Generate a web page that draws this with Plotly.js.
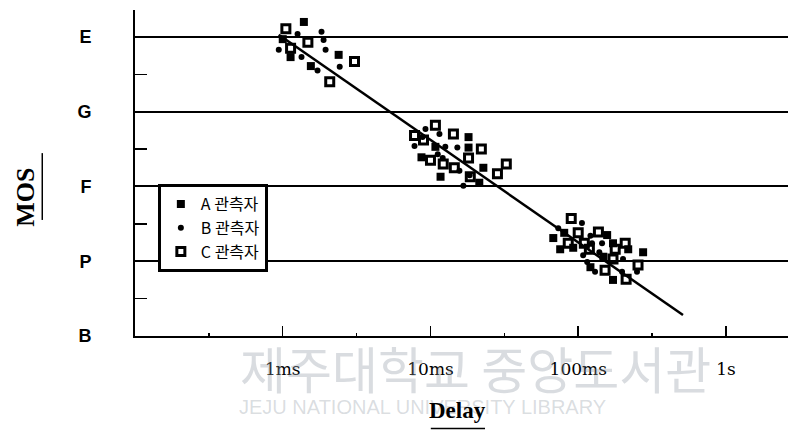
<!DOCTYPE html>
<html>
<head>
<meta charset="utf-8">
<script src="https://cdn.plot.ly/plotly-3.0.1.min.js"></script>
<style>html,body{margin:0;padding:0;background:#fff;}#chart{width:792px;height:436px;}</style>
</head>
<body>
<div id="chart"></div>
<script>
// Delay in ms, MOS score (B=1, P=2, F=3, G=4, E=5)
const seriesNames = ["A 관측자", "B 관측자", "C 관측자"];

const aDelay = [1.39, 1.00, 1.13, 2.39, 1.55,
                18.1, 10.8, 18.1, 8.69, 22.8, 11.7, 21.4,
                80.4, 157, 172, 75.5, 92.5, 67.8, 218, 148, 275, 121, 172];
const aMos   = [5.20, 4.97, 4.73, 4.76, 4.61,
                3.66, 3.53, 3.52, 3.39, 3.25, 3.13, 3.05,
                2.38, 2.35, 2.24, 2.16, 2.18, 2.31, 2.16, 2.06, 2.12, 1.92, 1.75];

const bDelay = [1.26, 1.83, 1.89, 0.94, 1.34, 1.95, 1.72, 2.43,
                9.25, 8.84, 11.5, 7.80, 12.6, 15.2, 11.2, 12.1, 15.7, 18.4, 16.7,
                106, 73.3, 121, 124, 145, 139, 108, 201, 115, 130, 198, 250];
const bMos   = [5.04, 5.07, 4.96, 4.83, 4.73, 4.83, 4.55, 4.60,
                3.77, 3.66, 3.70, 3.54, 3.53, 3.52, 3.43, 3.38, 3.21, 3.15, 3.01,
                2.51, 2.44, 2.34, 2.24, 2.24, 2.12, 2.08, 2.03, 1.99, 1.86, 1.86, 1.86];

const cDelay = [1.05, 1.48, 1.13, 3.06, 2.08,
                10.8, 7.80, 8.97, 14.3, 22.1, 10.0, 18.1, 12.2, 14.5, 32.6, 28.4, 18.6,
                89.7, 100, 137, 85.6, 110, 208, 119, 178, 172, 254, 152, 211];
const cMos   = [5.11, 4.93, 4.85, 4.67, 4.40,
                3.82, 3.68, 3.62, 3.70, 3.50, 3.35, 3.38, 3.30, 3.25, 3.30, 3.17, 3.13,
                2.57, 2.38, 2.39, 2.24, 2.24, 2.24, 2.16, 2.16, 2.03, 1.95, 1.88, 1.76];

const fitDelay = [0.94, 512];
const fitMos   = [5.03, 1.28];

const xTickVals = [1, 10, 100, 1000];
const xTickText = ["1ms", "10ms", "100ms", "1s"];
const xMinorVals = [0.316, 3.16, 31.6, 316];
const yTickVals = [1, 2, 3, 4, 5];
const yTickText = ["B", "P", "F", "G", "E"];
const yMinorVals = [1.5, 2.5, 3.5, 4.5];

const traces = [
  {x: fitDelay, y: fitMos, type: "scatter", mode: "lines",
   line: {color: "#000", width: 2.5}, showlegend: false, hoverinfo: "skip"},
  {x: aDelay, y: aMos, name: seriesNames[0], type: "scatter", mode: "markers",
   marker: {symbol: "square", size: 8, color: "#000"}},
  {x: bDelay, y: bMos, name: seriesNames[1], type: "scatter", mode: "markers",
   marker: {symbol: "circle", size: 6, color: "#000"}},
  {x: cDelay, y: cMos, name: seriesNames[2], type: "scatter", mode: "markers",
   marker: {symbol: "square-open", size: 8, color: "#000", line: {width: 3, color: "#000"}}}
];

const layout = {
  width: 792, height: 436,
  margin: {l: 135, r: 4, t: 10, b: 100},
  paper_bgcolor: "#fff", plot_bgcolor: "#fff",
  showlegend: true,
  legend: {x: 0.035, y: 0.466, xanchor: "left", yanchor: "top",
           bgcolor: "#fff", bordercolor: "#000", borderwidth: 3,
           font: {family: "Noto Sans CJK KR", size: 16, color: "#000"},
           itemwidth: 30, tracegroupgap: 0},
  xaxis: {
    type: "log", range: [-1, 3.42],
    tickmode: "array", tickvals: xTickVals, ticktext: xTickText,
    ticks: "inside", ticklen: 10, tickwidth: 1.5, tickcolor: "#000",
    ticklabelstandoff: 17,
    minor: {tickmode: "array", tickvals: xMinorVals, ticks: "inside", ticklen: 3, tickwidth: 1.5, tickcolor: "#000", showgrid: false},
    showline: true, linecolor: "#000", linewidth: 2,
    showgrid: false, zeroline: false,
    tickfont: {family: "DejaVu Serif", size: 17, color: "#000"}
  },
  yaxis: {
    range: [1, 5.36],
    tickmode: "array", tickvals: yTickVals, ticktext: yTickText,
    ticks: "", ticklabelstandoff: 38,
    minor: {tickmode: "array", tickvals: yMinorVals, ticks: "inside", ticklen: 12, tickwidth: 1.5, tickcolor: "#000", showgrid: false},
    showline: true, linecolor: "#000", linewidth: 2,
    showgrid: true, gridcolor: "#000", gridwidth: 2, zeroline: false,
    tickfont: {family: "Liberation Sans", size: 18, color: "#000", weight: "bold"}
  },
  annotations: [
    {text: "제주대학교 중앙도서관", xref: "paper", yref: "paper", x: 0.522, y: -0.095,
     xanchor: "center", yanchor: "middle", showarrow: false,
     font: {family: "Noto Sans CJK KR", size: 50, color: "rgba(140,150,160,0.33)"}},
    {text: "JEJU NATIONAL UNIVERSITY LIBRARY", xref: "paper", yref: "paper", x: 0.441, y: -0.218,
     xanchor: "center", yanchor: "middle", showarrow: false,
     font: {family: "Liberation Sans", size: 20, color: "rgba(140,150,160,0.33)"}},
    {text: "<b>Delay</b>", xref: "paper", yref: "paper", x: 0.494, y: -0.23,
     xanchor: "center", yanchor: "middle", showarrow: false,
     font: {family: "Liberation Serif", size: 23, color: "#000"}},
    {text: "<b>MOS</b>", xref: "paper", yref: "paper", x: -0.167, y: 0.427,
     xanchor: "center", yanchor: "middle", textangle: -90, showarrow: false,
     font: {family: "Liberation Serif", size: 26, color: "#000"}}
  ],
  shapes: [
    {type: "line", xref: "paper", yref: "paper", x0: 0.453, x1: 0.536, y0: -0.284, y1: -0.284,
     line: {color: "#000", width: 1.5}},
    {type: "line", xref: "paper", yref: "paper", x0: -0.142, x1: -0.142, y0: 0.356, y1: 0.561,
     line: {color: "#000", width: 1.5}}
  ]
};

Plotly.newPlot("chart", traces, layout, {staticPlot: true, displayModeBar: false});
</script>
</body>
</html>
